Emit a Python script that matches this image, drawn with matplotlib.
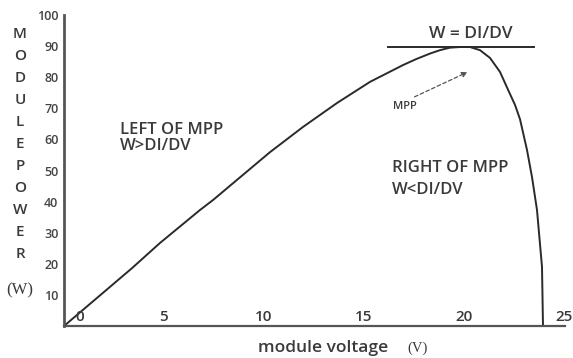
import matplotlib
matplotlib.use("Agg")
import matplotlib.pyplot as plt

# ---- data ----
voltage = [0.0, 3.4, 4.8, 6.8, 7.45, 10.3, 11.95, 13.65, 15.3, 16.95, 17.6,
           18.3, 18.8, 19.3, 19.8, 20.3, 20.8, 21.3, 21.8, 22.2, 22.55, 22.8,
           23.15, 23.4, 23.65, 23.9, 23.95]
power = [0.0, 18.6, 26.7, 37.3, 40.5, 55.9, 64.0, 71.7, 78.5, 83.9, 85.8,
         87.6, 88.7, 89.5, 89.7, 89.7, 88.7, 86.2, 81.7, 76.0, 71.1, 66.5,
         56.6, 47.9, 37.3, 19.0, 0.0]
tangent_v = [16.2, 23.5]
peak_power = 89.7
x_ticks = [0, 5, 10, 15, 20, 25]
y_ticks = [10, 20, 30, 40, 50, 60, 70, 80, 90, 100]
ylabel_letters = list("MODULEPOWER")

TXT = "#3a3a3a"
AX = "#555555"
FONT = ["Open Sans", "DejaVu Sans"]
W = "semibold"

fig = plt.figure(figsize=(5.73, 3.58), dpi=100)
ax = fig.add_axes([64 / 573, 32 / 358, 501 / 573, 311 / 358])
ax.set_xlim(0, 25.05)
ax.set_ylim(0, 100)

ax.plot(voltage, power, color="#2a2a2a", lw=1.4, solid_joinstyle="round")
ax.plot(tangent_v, [peak_power, peak_power], color="#2a2a2a", lw=1.4)

for s in ["top", "right"]:
    ax.spines[s].set_visible(False)
ax.spines["left"].set_color(AX)
ax.spines["left"].set_linewidth(2.0)
ax.spines["bottom"].set_color(AX)
ax.spines["bottom"].set_linewidth(1.6)

ax.set_xticks([])
ax.set_yticks(y_ticks)
ax.set_yticklabels([str(v) for v in y_ticks], fontsize=9, color="#444444",
                   family=FONT, weight=W)
ax.tick_params(axis="y", length=0, pad=4)

# x tick labels sitting on top of the axis line
for v in x_ticks:
    ax.text(v + (0.8 if v == 0 else 0), 0.6, str(v), ha="center", va="bottom",
            fontsize=11, color=TXT, family=FONT, weight=W)

# stacked y label
ax.text(-2.2, 96.0, "\n".join(ylabel_letters), ha="center", va="top",
        fontsize=11, color=TXT, linespacing=1.72, family=FONT, weight=W,
        clip_on=False)
ax.text(-2.2, 11.5, "(W)", ha="center", va="center", fontsize=12,
        family="Liberation Serif", color=TXT, clip_on=False)

# x label
ax.text(12.95, -7.2, "module voltage", ha="center", va="center", fontsize=12.5,
        color=TXT, family=FONT, weight=W, clip_on=False)
ax.text(17.7, -7.2, "(V)", ha="center", va="center", fontsize=10.5,
        family="Liberation Serif", color=TXT, clip_on=False)

# annotations
ax.text(2.8, 63, "LEFT OF MPP", ha="left", va="center", fontsize=12,
        color=TXT, family=FONT, weight=W)
ax.text(2.8, 58.0, "W>DI/DV", ha="left", va="center", fontsize=12,
        color=TXT, family=FONT, weight=W)
ax.text(16.4, 50.8, "RIGHT OF MPP", ha="left", va="center", fontsize=12,
        color=TXT, family=FONT, weight=W)
ax.text(16.4, 43.7, "W<DI/DV", ha="left", va="center", fontsize=12,
        color=TXT, family=FONT, weight=W)
ax.text(20.35, 94.0, "W = DI/DV", ha="center", va="center", fontsize=12.5,
        color=TXT, family=FONT, weight=W)
ax.text(16.45, 70.7, "MPP", ha="left", va="center", fontsize=8,
        color=TXT, family=FONT, weight=W)
ax.annotate("", xy=(20.3, 82.0), xytext=(17.4, 73.3),
            arrowprops=dict(arrowstyle="-|>", color="#555555", lw=0.9,
                            linestyle=(0, (3, 2)), mutation_scale=8))

fig.savefig("out.png", dpi=100)
